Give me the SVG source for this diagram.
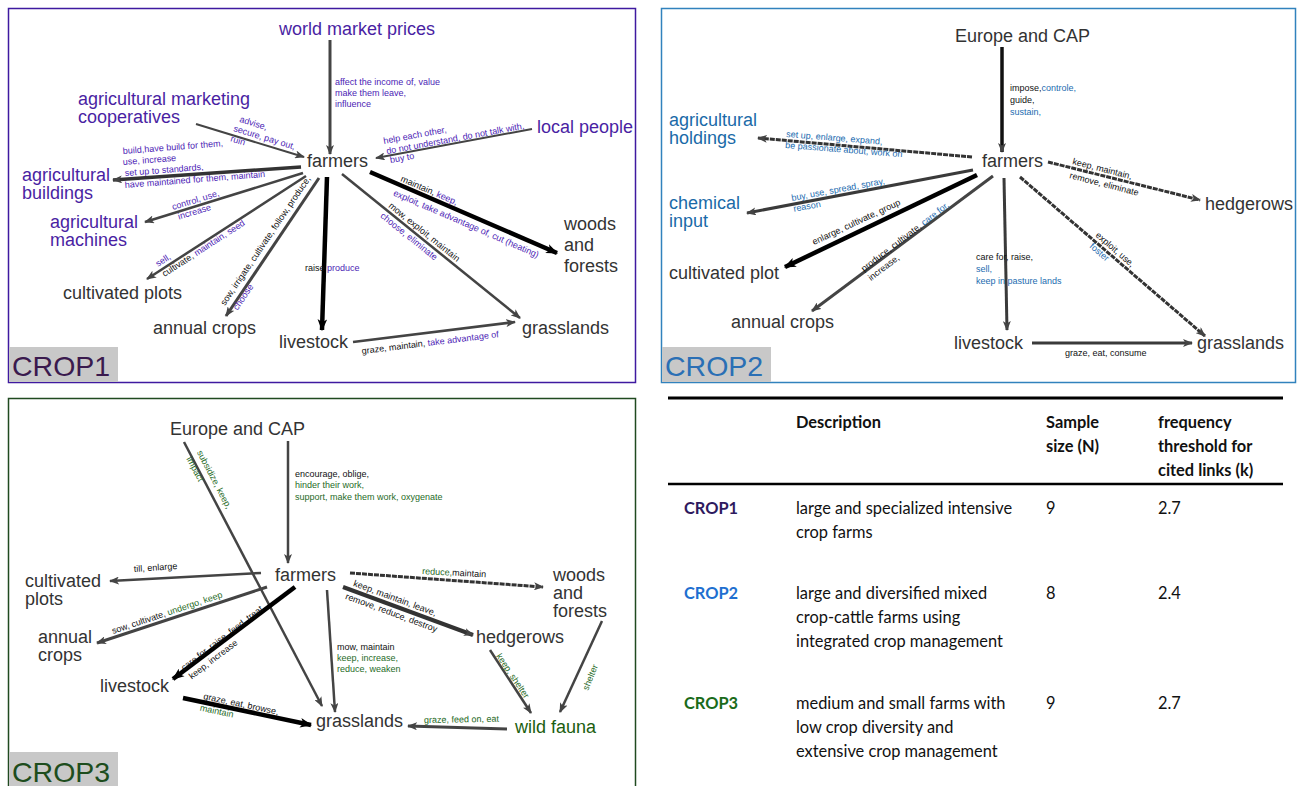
<svg xmlns="http://www.w3.org/2000/svg" width="1306" height="786" viewBox="0 0 1306 786">
<style>
.n{font-family:"Liberation Sans",Arial,sans-serif;font-size:18px;fill:#333}
.np{fill:#4a1fa3}.nb{fill:#1a6aa8}.ng{fill:#1b5e0f}
.l{font-family:"Liberation Sans",Arial,sans-serif;font-size:9px;fill:#111}
.p{fill:#4c1db5}.b{fill:#1c6cb0}.g{fill:#1f6b1f}
.e{fill:none;stroke:#444;stroke-width:2.5;marker-end:url(#a)}
.k{fill:none;stroke:#000;stroke-width:4.5;marker-end:url(#ak)}
.t{fill:none;stroke:#333;stroke-width:3;stroke-dasharray:5 1;marker-end:url(#a)}
.frame{fill:none;stroke-width:1.5}
.tag{font-family:"Liberation Sans",Arial,sans-serif;font-size:28.5px}
.tb{font-family:Lato,"Noto Sans",sans-serif;font-size:16.4px;fill:#111}
.tbb{font-weight:bold}
</style>
<defs>
<marker id="a" viewBox="0 0 10 8" refX="9" refY="4" markerWidth="10" markerHeight="8" markerUnits="userSpaceOnUse" orient="auto"><path d="M0,0 L10,4 L0,8 L2.5,4 z" fill="#444"/></marker>
<marker id="ak" viewBox="0 0 10 8" refX="9" refY="4" markerWidth="12" markerHeight="10" markerUnits="userSpaceOnUse" orient="auto"><path d="M0,0 L10,4 L0,8 L2.5,4 z" fill="#000"/></marker>
</defs>
<rect width="1306" height="786" fill="#fff"/>

<!-- ============ CROP1 ============ -->
<g id="panel-crop1">
<rect class="frame" x="8.5" y="8.5" width="627" height="374" stroke="#3f1aa0"/>
<rect x="9" y="347" width="109" height="35" fill="#c8c8c8"/>
<text class="tag" x="12" y="376" fill="#3a1a4e">CROP1</text>
</g>
<g id="crop1-connectors">
<line class="e" x1="330" y1="40" x2="330" y2="154" style="stroke-width:3"/>
<line class="e" x1="532" y1="129" x2="376" y2="158" style="stroke-width:2"/>
<line class="e" x1="196" y1="124" x2="304" y2="157" style="stroke-width:2"/>
<line class="e" x1="301" y1="167" x2="113" y2="180" style="stroke-width:3.5;stroke:#333"/>
<line class="e" x1="303" y1="173" x2="145" y2="222"/>
<line class="e" x1="306" y1="176" x2="147" y2="279"/>
<line class="e" x1="319" y1="178" x2="226" y2="316" style="stroke-width:3"/>
<line class="k" x1="327" y1="177" x2="322" y2="330"/>
<line class="k" x1="370" y1="172" x2="557" y2="253"/>
<line class="e" x1="342" y1="174" x2="520" y2="318"/>
<line class="e" x1="353" y1="342" x2="515" y2="322"/>
<text class="l p"><tspan x="335" y="84.5">affect the income of, value</tspan><tspan x="335" y="95.5">make them leave,</tspan><tspan x="335" y="106.5">influence</tspan></text>
<text class="l p" transform="translate(384,144) rotate(-10.5)"><tspan x="0" y="0">help each other,</tspan><tspan x="1" y="10.5">do not understand, do not talk with,</tspan><tspan x="3" y="20">buy to</tspan></text>
<text class="l p" transform="translate(233,131) rotate(17)"><tspan x="3" y="-10.5">advise,</tspan><tspan x="0" y="0">secure, pay out,</tspan><tspan x="0" y="10.5">ruin</tspan></text>
<text class="l p" transform="rotate(-4.5 123 154)" x="123" y="154">build,have build for them,</text>
<text class="l p" transform="rotate(-4.5 123 165)" x="123" y="165">use, increase</text>
<text class="l p" transform="rotate(-4.5 125 176)" x="125" y="176">set up to standards,</text>
<text class="l p" transform="rotate(-4.5 125 188)" x="125" y="188">have maintained for them, maintain</text>
<text class="l p" transform="translate(173,210) rotate(-17)"><tspan x="0" y="0">control, use,</tspan><tspan x="3" y="11">increase</tspan></text>
<text class="l" transform="translate(158,267) rotate(-33)"><tspan x="0" y="0" class="p">sell,</tspan><tspan x="0" y="12">cultivate, <tspan class="p">maintain, seed</tspan></tspan></text>
<text class="l" transform="translate(225,306) rotate(-56)"><tspan x="0" y="0">sow, irrigate, cultivate, follow, produce,</tspan><tspan x="3" y="13" class="p">choose</tspan></text>
<text class="l" x="305" y="271">raise <tspan class="p">produce</tspan></text>
<text class="l" transform="translate(400,181) rotate(23.4)"><tspan x="0" y="0">maintain, <tspan class="p">keep,</tspan></tspan><tspan x="-1" y="16" class="p">exploit, take advantage of, cut (heating)</tspan></text>
<text class="l" transform="translate(386,209) rotate(38.8)"><tspan x="0" y="-3">mow, exploit, maintain</tspan><tspan x="0" y="10" class="p">choose, eliminate</tspan></text>
<text class="l" transform="translate(362,354) rotate(-7)">graze, maintain, <tspan class="p">take advantage of</tspan></text>
</g>
<g id="c1-world-market-prices"><text class="n np" x="279" y="35">world market prices</text></g>
<g id="c1-marketing-coop"><text class="n np"><tspan x="78" y="105">agricultural marketing</tspan><tspan x="78" y="123">cooperatives</tspan></text></g>
<g id="c1-local-people"><text class="n np" x="537" y="133">local people</text></g>
<g id="c1-farmers"><text class="n" x="307" y="167">farmers</text></g>
<g id="c1-buildings"><text class="n np"><tspan x="22" y="181">agricultural</tspan><tspan x="22" y="199">buildings</tspan></text></g>
<g id="c1-machines"><text class="n np"><tspan x="50" y="228">agricultural</tspan><tspan x="50" y="246">machines</tspan></text></g>
<g id="c1-cultivated-plots"><text class="n" x="63" y="299">cultivated plots</text></g>
<g id="c1-annual-crops"><text class="n" x="153" y="334">annual crops</text></g>
<g id="c1-livestock"><text class="n" x="279" y="348">livestock</text></g>
<g id="c1-grasslands"><text class="n" x="522" y="334">grasslands</text></g>
<g id="c1-woods"><text class="n"><tspan x="564" y="230">woods</tspan><tspan x="564" y="251">and</tspan><tspan x="564" y="272">forests</tspan></text></g>

<!-- ============ CROP2 ============ -->
<g id="panel-crop2">
<rect class="frame" x="661.5" y="8.5" width="634" height="374" stroke="#3182bd"/>
<rect x="662" y="347" width="109" height="35" fill="#c8c8c8"/>
<text class="tag" x="665" y="376" fill="#2a6fb5">CROP2</text>
</g>
<g id="crop2-connectors">
<line class="e" x1="1002" y1="47" x2="1002" y2="152" style="stroke-width:3.5;stroke:#111"/>
<line class="t" x1="972" y1="157" x2="758" y2="138"/>
<line class="e" x1="973" y1="170" x2="747" y2="213" style="stroke-width:3;stroke:#3a3a3a"/>
<line class="k" x1="977" y1="175" x2="785" y2="267"/>
<line class="e" x1="993" y1="176" x2="812" y2="311" style="stroke-width:3"/>
<line class="e" x1="1004" y1="178" x2="1007" y2="330" style="stroke-width:3;stroke:#3a3a3a"/>
<line class="t" x1="1048" y1="162" x2="1200" y2="200"/>
<line class="t" x1="1020" y1="177" x2="1205" y2="336"/>
<line class="e" x1="1032" y1="343" x2="1192" y2="343" style="stroke-width:3;stroke:#3a3a3a"/>
<text class="l"><tspan x="1010" y="91">impose,<tspan class="b">controle,</tspan></tspan><tspan x="1010" y="103">guide,</tspan><tspan x="1010" y="115" class="b">sustain,</tspan></text>
<text class="l b" transform="rotate(4.5 786 137)" x="786" y="137">set up, enlarge, expand,</text>
<text class="l b" transform="rotate(4.5 785 148)" x="785" y="148">be passionate about, work on</text>
<text class="l b" transform="translate(792,201) rotate(-10.5)"><tspan x="0" y="0">buy, use, spread, spray,</tspan><tspan x="0" y="11">reason</tspan></text>
<text class="l" transform="translate(814,245) rotate(-25)">enlarge, cultivate, group</text>
<text class="l" transform="translate(864,272) rotate(-37.5)"><tspan x="0" y="0">produce, cultivate, <tspan class="b">care for,</tspan></tspan><tspan x="0" y="11.5">increase,</tspan></text>
<text class="l"><tspan x="976" y="260">care for, raise,</tspan><tspan x="976" y="272" class="b">sell,</tspan><tspan x="976" y="284" class="b">keep in pasture lands</tspan></text>
<text class="l" transform="rotate(14.5 1072 164)" x="1072" y="164">keep, maintain,</text>
<text class="l" transform="rotate(14.5 1069 178)" x="1069" y="178">remove, eliminate</text>
<text class="l" transform="rotate(41 1095 236)" x="1095" y="236">exploit, use,</text>
<text class="l b" transform="rotate(41 1089 247)" x="1089" y="247">foster</text>
<text class="l" x="1065" y="356">graze, eat, consume</text>
</g>
<g id="c2-europe-cap"><text class="n" x="955" y="42">Europe and CAP</text></g>
<g id="c2-holdings"><text class="n nb"><tspan x="669" y="126">agricultural</tspan><tspan x="669" y="144">holdings</tspan></text></g>
<g id="c2-chemical"><text class="n nb"><tspan x="669" y="209">chemical</tspan><tspan x="669" y="227">input</tspan></text></g>
<g id="c2-farmers"><text class="n" x="982" y="167">farmers</text></g>
<g id="c2-hedgerows"><text class="n" x="1205" y="210">hedgerows</text></g>
<g id="c2-cultivated-plot"><text class="n" x="669" y="279">cultivated plot</text></g>
<g id="c2-annual-crops"><text class="n" x="731" y="328">annual crops</text></g>
<g id="c2-livestock"><text class="n" x="954" y="349">livestock</text></g>
<g id="c2-grasslands"><text class="n" x="1197" y="349">grasslands</text></g>

<!-- ============ CROP3 ============ -->
<g id="panel-crop3">
<rect class="frame" x="8.5" y="398.5" width="627" height="400" stroke="#204a20"/>
<rect x="9" y="752" width="109" height="34" fill="#c8c8c8"/>
<text class="tag" x="12" y="782" fill="#1d4d1d">CROP3</text>
</g>
<g id="crop3-connectors">
<line class="e" x1="288" y1="441" x2="288" y2="563"/>
<line class="e" x1="184" y1="442" x2="322" y2="706"/>
<line class="e" x1="261" y1="573" x2="110" y2="581"/>
<line class="e" x1="267" y1="587" x2="97" y2="643" style="stroke-width:3"/>
<line class="k" x1="295" y1="587" x2="173" y2="679"/>
<line class="e" x1="327" y1="590" x2="335" y2="712"/>
<line class="t" x1="350" y1="573" x2="543" y2="587"/>
<line class="e" x1="343" y1="587" x2="473" y2="635" style="stroke-width:4;stroke:#333"/>
<line class="e" x1="490" y1="650" x2="531" y2="713"/>
<line class="e" x1="602" y1="621" x2="560" y2="712"/>
<line class="k" x1="183" y1="698" x2="311" y2="725"/>
<line class="e" x1="507" y1="729" x2="408" y2="726" style="stroke-width:3"/>
<text class="l"><tspan x="295" y="477">encourage, oblige,</tspan><tspan x="295" y="488" class="g">hinder their work,</tspan><tspan x="295" y="500" class="g">support, make them work, oxygenate</tspan></text>
<text class="l g" transform="translate(184,442) rotate(62.4)"><tspan x="15" y="-6.5">subsidize, keep,</tspan><tspan x="16" y="5.7">impact</tspan></text>
<text class="l" transform="rotate(-4 134 572)" x="134" y="572">till, enlarge</text>
<text class="l" transform="rotate(-18.5 113 634)" x="113" y="634">sow, cultivate, <tspan class="g">undergo, keep</tspan></text>
<text class="l" transform="translate(184,671) rotate(-37.5)"><tspan x="0" y="0">care for, raise, feed, treat</tspan><tspan x="1" y="11.5">keep, increase</tspan></text>
<text class="l"><tspan x="337" y="650">mow, maintain</tspan><tspan x="337" y="661" class="g">keep, increase,</tspan><tspan x="337" y="672" class="g">reduce, weaken</tspan></text>
<text class="l" transform="rotate(3 422 574)" x="422" y="574"><tspan class="g">reduce,</tspan>maintain</text>
<text class="l" transform="translate(352,588) rotate(20.3)"><tspan x="0" y="-2.5">keep, maintain, leave,</tspan><tspan x="-3" y="12.5">remove, reduce, destroy</tspan></text>
<text class="l g" transform="rotate(56.3 496 656)" x="496" y="656">keep, shelter</text>
<text class="l g" transform="rotate(-68 588 691)" x="588" y="691">shelter</text>
<text class="l" transform="translate(203,699) rotate(12)"><tspan x="0" y="0">graze, eat, browse,</tspan><tspan x="-1" y="12" class="g">maintain</tspan></text>
<text class="l g" transform="rotate(-1 424 723)" x="424" y="723">graze, feed on, eat</text>
</g>
<g id="c3-europe-cap"><text class="n" x="170" y="435">Europe and CAP</text></g>
<g id="c3-farmers"><text class="n" x="275" y="581">farmers</text></g>
<g id="c3-cultivated-plots"><text class="n"><tspan x="25" y="587">cultivated</tspan><tspan x="25" y="605">plots</tspan></text></g>
<g id="c3-annual-crops"><text class="n"><tspan x="38" y="643">annual</tspan><tspan x="38" y="661">crops</tspan></text></g>
<g id="c3-livestock"><text class="n" x="100" y="692">livestock</text></g>
<g id="c3-grasslands"><text class="n" x="316" y="727">grasslands</text></g>
<g id="c3-woods"><text class="n"><tspan x="553" y="581">woods</tspan><tspan x="553" y="599">and</tspan><tspan x="553" y="617">forests</tspan></text></g>
<g id="c3-hedgerows"><text class="n" x="476" y="643">hedgerows</text></g>
<g id="c3-wild-fauna"><text class="n ng" x="515" y="733">wild fauna</text></g>

<!-- ============ TABLE ============ -->
<g id="table">
<line x1="668" y1="398" x2="1283" y2="398" stroke="#000" stroke-width="3"/>
<line x1="668" y1="484" x2="1283" y2="484" stroke="#000" stroke-width="2.5"/>
<text class="tb tbb" x="796" y="428">Description</text>
<text class="tb tbb"><tspan x="1046" y="428">Sample</tspan><tspan x="1046" y="452">size (N)</tspan></text>
<text class="tb tbb"><tspan x="1158" y="428">frequency</tspan><tspan x="1158" y="452">threshold for</tspan><tspan x="1158" y="476">cited links (k)</tspan></text>
<text class="tb tbb" x="684" y="514" style="fill:#2e1a5e">CROP1</text>
<text class="tb"><tspan x="796" y="514">large and specialized intensive</tspan><tspan x="796" y="538">crop farms</tspan></text>
<text class="tb" x="1046" y="514">9</text>
<text class="tb" x="1158" y="514">2.7</text>
<text class="tb tbb" x="684" y="599" style="fill:#1e6fd0">CROP2</text>
<text class="tb"><tspan x="796" y="599">large and diversified mixed</tspan><tspan x="796" y="623">crop-cattle farms using</tspan><tspan x="796" y="647">integrated crop management</tspan></text>
<text class="tb" x="1046" y="599">8</text>
<text class="tb" x="1158" y="599">2.4</text>
<text class="tb tbb" x="684" y="709" style="fill:#1a6b1a">CROP3</text>
<text class="tb"><tspan x="796" y="709">medium and small farms with</tspan><tspan x="796" y="733">low crop diversity and</tspan><tspan x="796" y="757">extensive crop management</tspan></text>
<text class="tb" x="1046" y="709">9</text>
<text class="tb" x="1158" y="709">2.7</text>
</g>
</svg>
